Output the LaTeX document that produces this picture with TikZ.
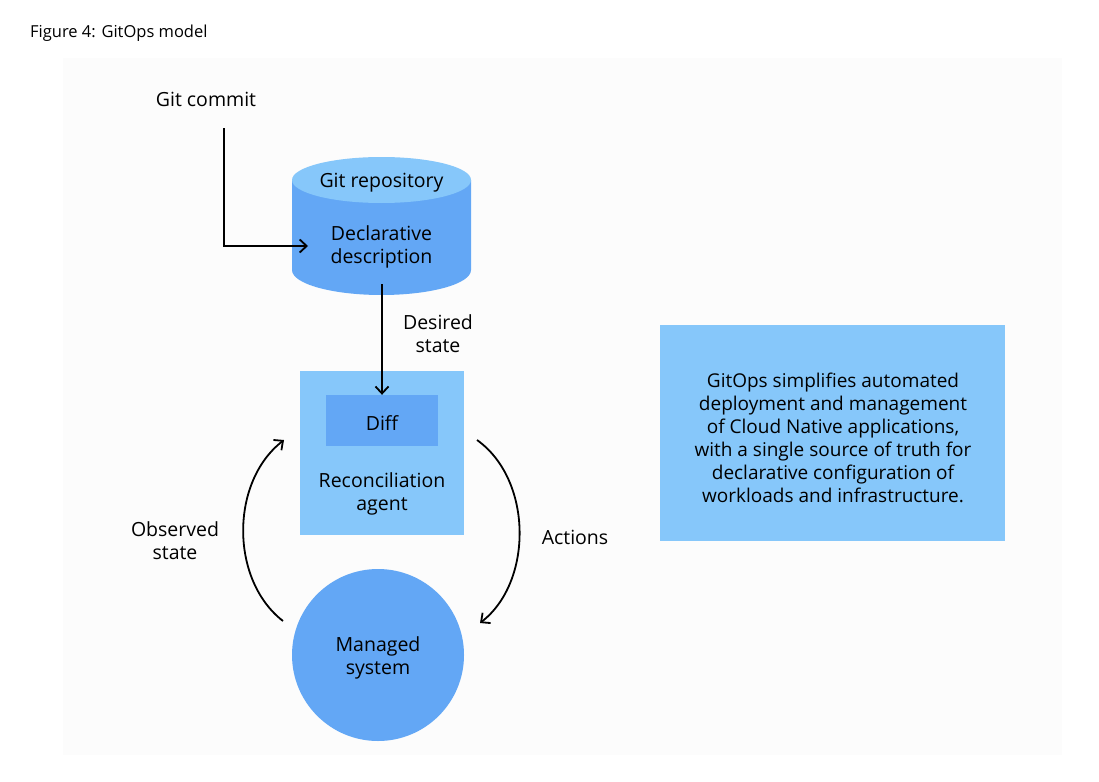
\documentclass[tikz,border=0pt]{standalone}
\usepackage{fontspec}
\setmainfont{Open Sans}
\usetikzlibrary{arrows.meta}
\definecolor{lightblue}{RGB}{134,199,250}
\definecolor{midblue}{RGB}{99,167,245}
\definecolor{panel}{RGB}{252,252,252}
\tikzset{
  lbl/.style={font=\fontsize{19.5}{23}\selectfont, align=center, inner sep=0pt, text=black, yshift=-2.5pt},
  conn/.style={line width=1.8pt, -{Straight Barb[length=7pt,width=13pt,line width=1.8pt]}},
}
\begin{document}
\begin{tikzpicture}[x=1pt,y=-1pt]
\useasboundingbox (0,0) rectangle (1099,781);
\fill[white] (0,0) rectangle (1099,781);
\fill[panel] (63,58) rectangle (1062,755);
\node[anchor=west, font=\fontsize{16.5}{19}\selectfont, inner sep=0pt] (title) at (30,33) {Figure 4: GitOps model};
% cylinder
\fill[midblue] (292,180) -- (292,270) arc[start angle=180,end angle=0,x radius=89.5,y radius=25] -- (471,180) -- cycle;
\fill[lightblue] (381.5,180) ellipse[x radius=89.5, y radius=23];
\node[lbl] (repo) at (381.5,180) {Git repository};
\node[lbl] (decl) at (381.5,244) {Declarative\\description};
% git commit
\node[lbl] (commit) at (206,97) {Git commit};
\coordinate (c1) at (224,128);
\coordinate (c2) at (308,246);
\draw[conn] (c1) |- (c2);
% reconciliation
\node[fill=lightblue, minimum width=164, minimum height=164, inner sep=0pt] (agent) at (382,453) {};
\node[fill=midblue, minimum width=112, minimum height=51, inner sep=0pt] (diff) at (382,420.5) {};
\node[lbl] (difftxt) at (382,420.5) {Diff};
\node[lbl] (agtxt) at (382,491) {Reconciliation\\agent};
\coordinate (d1) at (382,284);
\draw[conn] (d1) -- (diff.north);
\node[lbl] (desired) at (438,331) {Desired\\state};
% managed system
\node[circle, fill=midblue, minimum size=172, inner sep=0pt] (sys) at (378,655) {};
\node[lbl] (systxt) at (378,655) {Managed\\system};
\coordinate (l1) at (283,621);
\coordinate (l2) at (284,440);
\draw[conn] (l1) .. controls (230,580) and (230,482) .. (l2);
\coordinate (r1) at (477,440);
\coordinate (r2) at (480,623);
\draw[conn] (r1) .. controls (533,480) and (533,582) .. (r2);
\node[lbl] (obs) at (175,538) {Observed\\state};
\node[lbl] (act) at (575,535) {Actions};
% info box
\node[fill=lightblue, minimum width=345, minimum height=216, inner sep=0pt] (info) at (832.5,433) {};
\node[lbl, font=\fontsize{19}{23}\selectfont] (infotxt) at (833,435) {GitOps simplifies automated\\deployment and management\\of Cloud Native applications,\\with a single source of truth for\\declarative configuration of\\workloads and infrastructure.};
\end{tikzpicture}
\end{document}
